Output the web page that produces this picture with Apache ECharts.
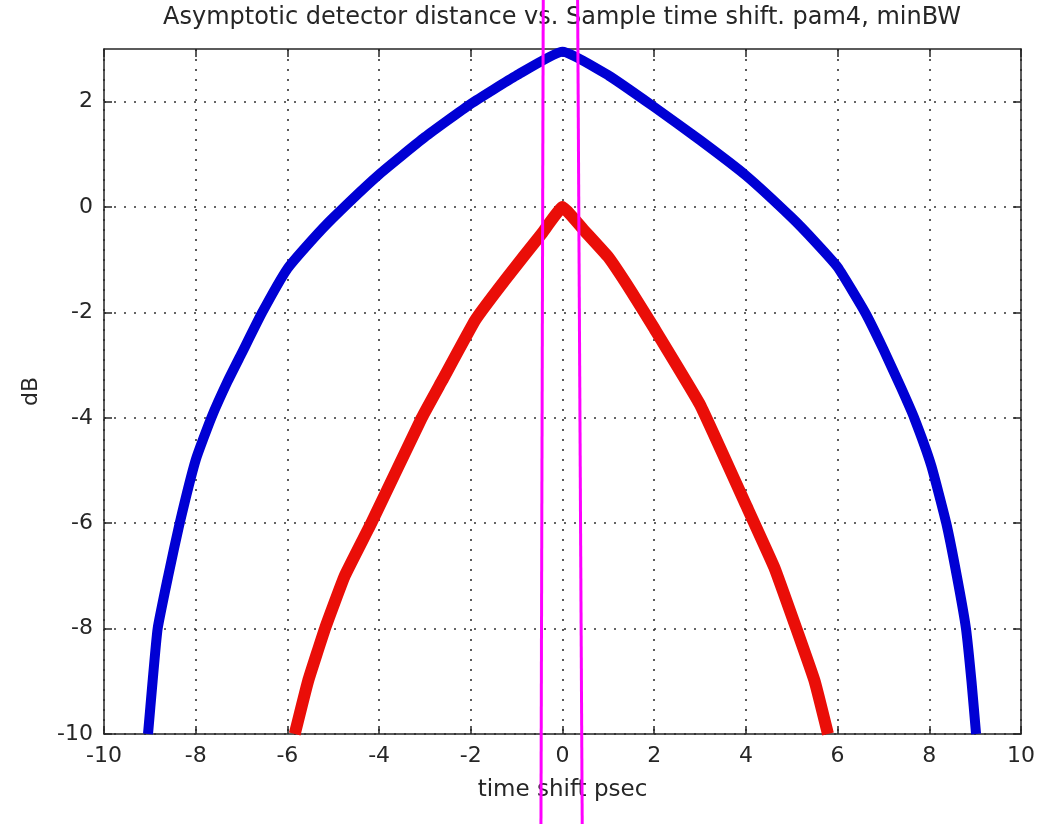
<!DOCTYPE html>
<html>
<head>
<meta charset="utf-8">
<title>Asymptotic detector distance</title>
<script src="https://cdn.jsdelivr.net/npm/echarts@6/dist/echarts.min.js"></script>
<style>
  html, body { margin: 0; padding: 0; background: #fff; }
  #chart { width: 1045px; height: 824px; }
</style>
</head>
<body>
<div id="chart"></div>
<script>
// Axis ticks
const xTicks = [-10, -8, -6, -4, -2, 0, 2, 4, 6, 8, 10];
const yTicks = [-10, -8, -6, -4, -2, 0, 2];

// Upper curve (blue): time shift [psec] and level [dB]
const blueShift = [-9.04, -8.94, -8.83, -8.6, -8.35, -8.0, -7.66, -7.3, -7.0, -6.55, -6.0, -5.5, -5.0, -4.0, -3.0, -2.0, -1.0, 0.0,
                    1.0, 2.0, 3.0, 4.0, 5.0, 5.5, 6.0, 6.6, 7.0, 7.38, 7.67, 8.04, 8.37, 8.6, 8.8, 8.92, 9.02];
const blueDb    = [-10, -9, -8, -7, -6, -4.8, -4.0, -3.3, -2.78, -2.0, -1.17, -0.66, -0.2, 0.62, 1.33, 1.96, 2.5, 2.95,
                    2.5, 1.9, 1.27, 0.6, -0.2, -0.65, -1.14, -2.0, -2.7, -3.42, -4.0, -4.9, -6.0, -7.0, -8.0, -9.0, -10];

// Lower curve (red)
const redShift = [-5.84, -5.55, -5.18, -4.75, -4.16, -3.07, -2.63, -1.9, -1.25, -0.45, 0.0,
                  0.5, 1.0, 1.5, 2.0, 3.0, 4.0, 4.62, 5.1, 5.5, 5.79];
const redDb    = [-10, -9, -8, -7.0, -5.98, -4.0, -3.3, -2.14, -1.38, -0.5, 0.0,
                  -0.47, -0.95, -1.6, -2.3, -3.75, -5.65, -6.84, -8, -9, -10];

// Two magenta marker lines drawn across the whole figure
const markerLeftShift  = [-0.42, -0.47];
const markerRightShift = [0.33, 0.43];
const markerDb         = [3.93, -11.71];

const pairs = (xs, ys) => xs.map((x, i) => [x, ys[i]]);

const FONT = 'DejaVu Sans';
const INK = '#262626';

const baseAxis = {
  type: 'value',
  min: -10,
  interval: 2,
  axisLine: { show: true, onZero: false, lineStyle: { color: INK, width: 1.5 } },
  axisTick: { show: true, inside: true, length: 8, lineStyle: { color: INK, width: 1.5 } }
};

const gridDots = { show: true, lineStyle: { color: '#333', width: 1.6, type: [2, 8] } };

const chart = echarts.init(document.getElementById('chart'), null, { renderer: 'canvas' });

chart.setOption({
  backgroundColor: '#ffffff',
  animation: false,
  grid: { left: 104, right: 24, top: 49, bottom: 90, containLabel: false },
  graphic: [{
    type: 'text',
    x: 562,
    y: 6,
    style: {
      text: 'Asymptotic detector distance vs. Sample time shift. pam4, minBW',
      font: '24px "' + FONT + '"',
      fill: INK,
      align: 'center',
      textAlign: 'center',
      verticalAlign: 'top',
      textVerticalAlign: 'top'
    }
  }],
  xAxis: [
    Object.assign({}, baseAxis, {
      max: 10,
      position: 'bottom',
      name: 'time shift psec',
      nameLocation: 'middle',
      nameGap: 45,
      nameTextStyle: { fontFamily: FONT, fontSize: 23, color: INK },
      axisLabel: {
        margin: 11, fontFamily: FONT, fontSize: 22, color: INK,
        customValues: xTicks
      },
      splitLine: gridDots
    }),
    Object.assign({}, baseAxis, {
      max: 10,
      position: 'top',
      axisLabel: { show: false },
      splitLine: { show: false }
    })
  ],
  yAxis: [
    Object.assign({}, baseAxis, {
      max: 3,
      position: 'left',
      name: 'dB',
      nameLocation: 'middle',
      nameGap: 62,
      nameTextStyle: { fontFamily: FONT, fontSize: 22, color: INK },
      axisLabel: {
        margin: 11, fontFamily: FONT, fontSize: 22, color: INK,
        customValues: yTicks
      },
      axisTick: { show: true, inside: true, length: 8, customValues: yTicks, lineStyle: { color: INK, width: 1.5 } },
      splitLine: gridDots
    }),
    Object.assign({}, baseAxis, {
      max: 3,
      position: 'right',
      axisLabel: { show: false },
      axisTick: { show: true, inside: true, length: 8, customValues: yTicks, lineStyle: { color: INK, width: 1.5 } },
      splitLine: { show: false }
    })
  ],
  series: [
    {
      type: 'line',
      data: pairs(blueShift, blueDb),
      showSymbol: false,
      smooth: 0.15,
      lineStyle: { color: '#0000d4', width: 10, cap: 'butt', join: 'round' },
      z: 3
    },
    {
      type: 'line',
      data: pairs(redShift, redDb),
      showSymbol: false,
      smooth: 0.1,
      lineStyle: { color: '#ea0e08', width: 12, cap: 'butt', join: 'round' },
      z: 3
    },
    {
      type: 'line',
      data: pairs(markerLeftShift, markerDb),
      showSymbol: false,
      clip: false,
      lineStyle: { color: '#ff00ff', width: 3 },
      z: 5
    },
    {
      type: 'line',
      data: pairs(markerRightShift, markerDb),
      showSymbol: false,
      clip: false,
      lineStyle: { color: '#ff00ff', width: 3 },
      z: 5
    }
  ]
});
</script>
</body>
</html>
